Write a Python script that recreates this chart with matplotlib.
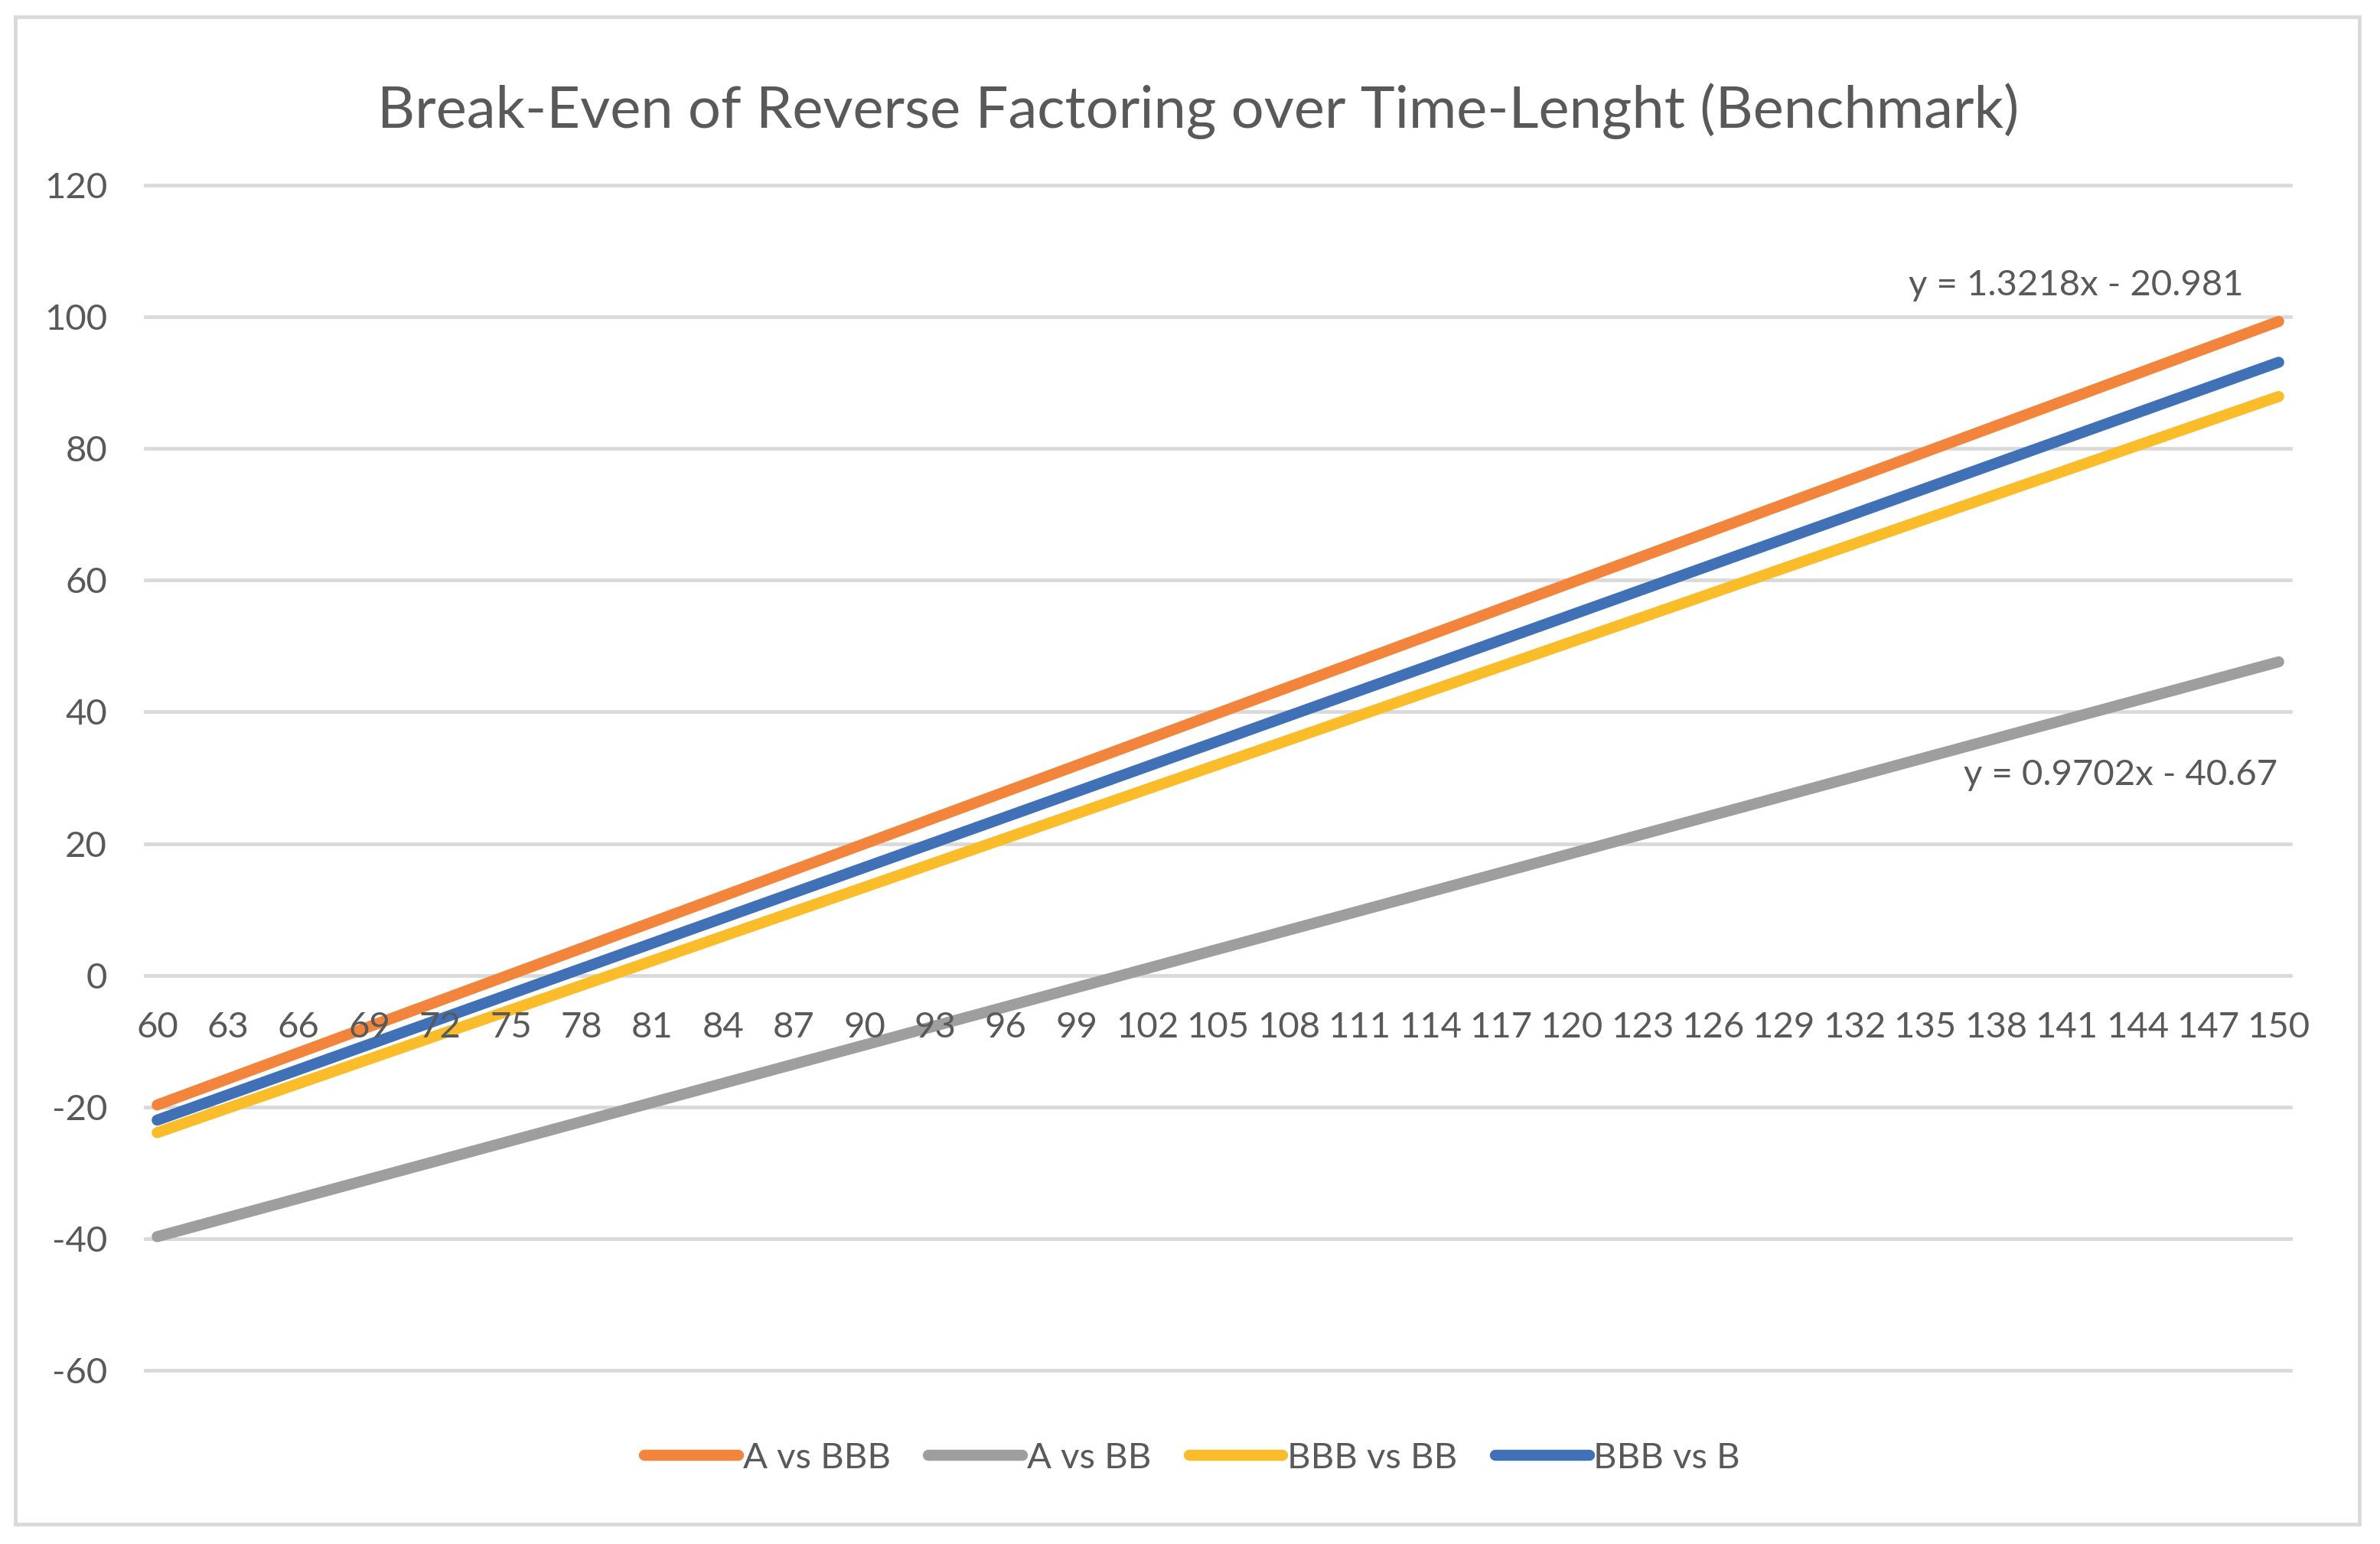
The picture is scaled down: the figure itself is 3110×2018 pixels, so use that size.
import matplotlib
matplotlib.use("Agg")
import matplotlib.pyplot as plt
from matplotlib.patches import Rectangle

plt.rcParams['font.family'] = ['Lato', 'DejaVu Sans']

# data (day length -> break-even value)
x_days = [60, 150]
a_vs_bbb = [-19.7, 99.3]
a_vs_bb = [-39.7, 47.6]
bbb_vs_bb = [-23.9, 87.9]
bbb_vs_b = [-22.0, 93.1]

series_names = ['A vs BBB', 'A vs BB', 'BBB vs BB', 'BBB vs B']
series_colors = ['#F3843C', '#9D9E9D', '#FBBC2A', '#4071B7']

x_ticks = [60, 63, 66, 69, 72, 75, 78, 81, 84, 87, 90, 93, 96, 99, 102, 105,
           108, 111, 114, 117, 120, 123, 126, 129, 132, 135, 138, 141, 144,
           147, 150]
y_ticks = [-60, -40, -20, 0, 20, 40, 60, 80, 100, 120]

title = 'Break-Even of Reverse Factoring over Time-Lenght (Benchmark)'
trend_labels = ['y = 1.3218x - 20.981', 'y = 0.9702x - 40.67']

text_col = '#595959'
grid_col = '#D9D9D9'

W, H = 3110, 2018
fig = plt.figure(figsize=(W / 200, H / 200), dpi=200)
ax = fig.add_axes([190 / W, 1 - 1791 / H, (2993 - 190) / W, (1791 - 242) / H])
ax.set_axisbelow(False)

# gridlines
for yv in y_ticks:
    ax.axhline(yv, color=grid_col, lw=1.7, zorder=0, clip_on=False)

# lines go under the tick labels (labels at the zero line are drawn on top)
series = [a_vs_bbb, a_vs_bb, bbb_vs_bb, bbb_vs_b]
for vals, name, col in zip(series, series_names, series_colors):
    ax.plot(x_days, vals, color=col, lw=5.2, solid_capstyle='round',
            label=name, zorder=2)

ax.set_xlim(59.5, 150.5)
ax.set_ylim(-60, 120)
ax.set_xticks(x_ticks)
ax.set_xticklabels([str(t) for t in x_ticks])
ax.set_yticks(y_ticks)
ax.set_yticklabels([str(t) for t in y_ticks])

for s in ax.spines.values():
    s.set_visible(False)
# category labels sit at the zero line, like excel
ax.spines['bottom'].set_position(('data', 0))

ax.tick_params(axis='both', length=0, labelsize=17, labelcolor=text_col)
ax.tick_params(axis='x', pad=17)
ax.tick_params(axis='y', pad=18)

# trendline equations
ax.text(141.4, 104.8, trend_labels[0], ha='center', va='center',
        fontsize=17, color=text_col)
ax.text(143.3, 30.4, trend_labels[1], ha='center', va='center',
        fontsize=17, color=text_col)

fig.text(0.5035, 1 - 145 / H, title, ha='center', va='center',
         fontsize=27.3, color=text_col)

leg = ax.legend(loc='center', bbox_to_anchor=(0.501, 1 - 1906 / H),
                bbox_transform=fig.transFigure, ncol=4, frameon=False,
                fontsize=17, handlelength=2.6, handletextpad=0.12,
                columnspacing=1.05)
for t in leg.get_texts():
    t.set_color(text_col)

# chart border
fig.patches.append(Rectangle((20 / W, 1 - 1992 / H), (3083 - 20) / W,
                             (1992 - 22) / H, transform=fig.transFigure,
                             fill=False, ec=grid_col, lw=1.7))

fig.savefig('out.png', dpi=200)
